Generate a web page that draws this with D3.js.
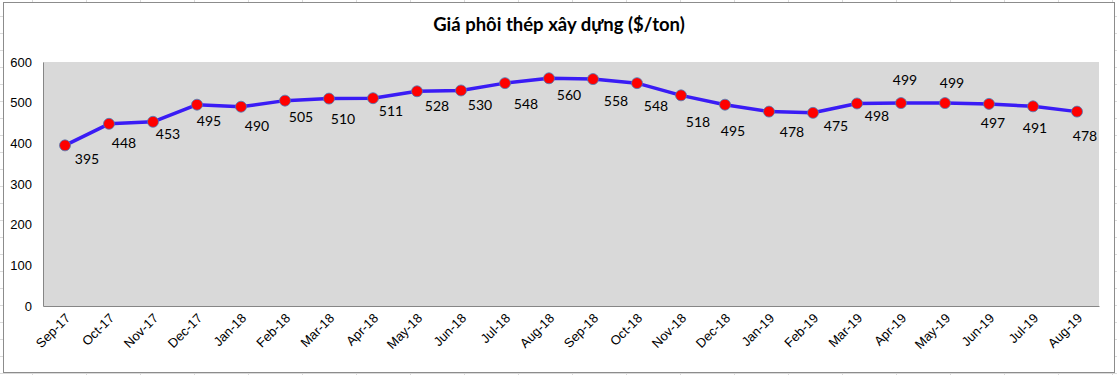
<!DOCTYPE html>
<html>
<head>
<meta charset="utf-8">
<script src="https://cdn.jsdelivr.net/npm/d3@7"></script>
<style>
  body { margin: 0; background: #fff; }
  svg { display: block; font-family: Lato, "Open Sans", sans-serif; }
</style>
</head>
<body>
<div id="wrapper"></div>
<script>
// data
const months = ["Sep-17","Oct-17","Nov-17","Dec-17","Jan-18","Feb-18","Mar-18","Apr-18","May-18","Jun-18","Jul-18","Aug-18",
                "Sep-18","Oct-18","Nov-18","Dec-18","Jan-19","Feb-19","Mar-19","Apr-19","May-19","Jun-19","Jul-19","Aug-19"]
const prices = [395,448,453,495,490,505,510,511,528,530,548,560,558,548,518,495,478,475,498,499,499,497,491,478]
const yTicks = [0,100,200,300,400,500,600]
const chartTitle = "Giá phôi thép xây dựng ($/ton)"

// label nudges (px from the marker), as placed in the original sheet
const labelDx = [22,15,15,12,16,16,14,18,20,19,21,20,23,19,17,8,23,23,20,4,7,4,2,8]
const labelDy = [14,19,12,16,19,16,20,13,15,15,21,17,22,23,27,26,20,13,13,-23,-20,19,22,24]

function drawChart(){
    const dimensions = {
        width: 1117,
        height: 375,
        margin: { top: 62, right: 18, bottom: 69, left: 43 }
    }
    dimensions.boundedWidth = dimensions.width - dimensions.margin.left - dimensions.margin.right
    dimensions.boundedHeight = dimensions.height - dimensions.margin.top - dimensions.margin.bottom

    const wrapper = d3.select("#wrapper")
        .append("svg")
        .attr("width", dimensions.width)
        .attr("height", dimensions.height)

    // spreadsheet grid behind the chart object
    const grid = wrapper.append("g").attr("stroke", "#dadada").attr("stroke-width", 1)
    d3.range(32, dimensions.width, 54).forEach(x => {
        grid.append("line").attr("x1", x + 0.5).attr("x2", x + 0.5).attr("y1", 0).attr("y2", dimensions.height)
    })
    d3.range(16, dimensions.height, 17).forEach(y => {
        grid.append("line").attr("x1", 0).attr("x2", dimensions.width).attr("y1", y + 0.5).attr("y2", y + 0.5)
    })

    // chart area
    wrapper.append("rect")
        .attr("x", 3.5).attr("y", 2.5)
        .attr("width", 1111).attr("height", 370)
        .attr("fill", "#fff")
        .attr("stroke", "#8c8c8c")

    wrapper.append("text")
        .attr("x", 559).attr("y", 31)
        .attr("text-anchor", "middle")
        .style("font-size", "18.5px")
        .style("font-weight", "bold")
        .text(chartTitle)

    const bounds = wrapper.append("g")
        .attr("transform", `translate(${dimensions.margin.left},${dimensions.margin.top})`)

    // scales
    const xScale = d3.scaleBand()
        .domain(months)
        .range([0, dimensions.boundedWidth])
    const yScale = d3.scaleLinear()
        .domain([0, 600])
        .range([dimensions.boundedHeight, 0])

    const xCenter = d => xScale(d) + xScale.bandwidth() / 2

    // plot area
    bounds.append("rect")
        .attr("width", dimensions.boundedWidth)
        .attr("height", dimensions.boundedHeight)
        .attr("fill", "#d9d9d9")

    // axes
    const yAxisGenerator = d3.axisLeft(yScale).tickValues(yTicks).tickSize(0).tickPadding(11)
    const yAxis = bounds.append("g").call(yAxisGenerator)
    yAxis.select(".domain").attr("stroke", "#868686")
    yAxis.selectAll("text").style("font-size", "13px").attr("fill", "#000")

    const xAxisGenerator = d3.axisBottom(xScale).tickSize(0).tickFormat(d => d)
    const xAxis = bounds.append("g")
        .attr("transform", `translate(0,${dimensions.boundedHeight})`)
        .call(xAxisGenerator)
    xAxis.select(".domain").attr("stroke", "#868686")
    xAxis.selectAll("text")
        .style("font-size", "13px")
        .attr("fill", "#000")
        .attr("text-anchor", "end")
        .attr("dy", null)
        .attr("y", 0)
        .attr("transform", "translate(6,13) rotate(-45)")

    // line
    const lineGenerator = d3.line()
        .x((d, i) => xCenter(months[i]))
        .y(d => yScale(d))

    bounds.append("path")
        .datum(prices)
        .attr("d", lineGenerator)
        .attr("fill", "none")
        .attr("stroke", "#3a1cf5")
        .attr("stroke-width", 3.5)
        .attr("stroke-linejoin", "round")

    // markers
    bounds.selectAll("circle")
        .data(prices)
        .enter()
        .append("circle")
        .attr("cx", (d, i) => xCenter(months[i]))
        .attr("cy", d => yScale(d))
        .attr("r", 5.5)
        .attr("fill", "#ff0000")
        .attr("stroke", "#4a7ebb")
        .attr("stroke-width", 0.8)

    // data labels
    bounds.selectAll(".label")
        .data(prices)
        .enter()
        .append("text")
        .attr("class", "label")
        .attr("x", (d, i) => xCenter(months[i]) + labelDx[i])
        .attr("y", (d, i) => yScale(d) + labelDy[i])
        .attr("dy", "0.35em")
        .attr("text-anchor", "middle")
        .style("font-size", "14px")
        .attr("fill", "#000")
        .text(d => d)
}

drawChart()
</script>
</body>
</html>
